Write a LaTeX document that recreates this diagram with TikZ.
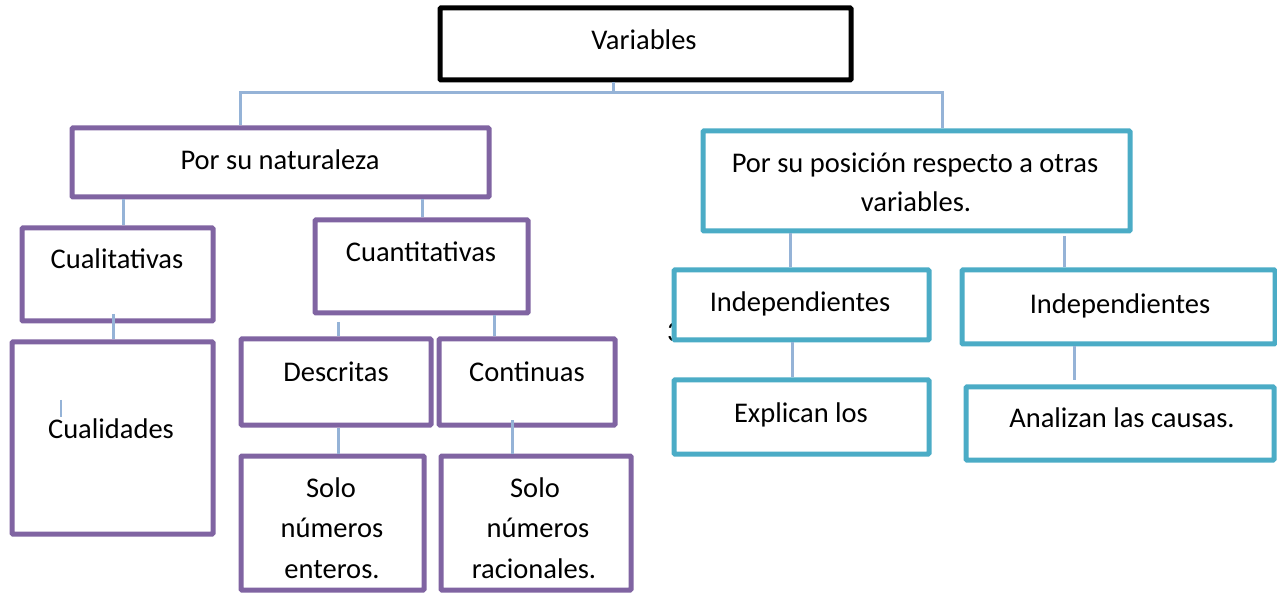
\documentclass[tikz,border=0pt]{standalone}
\usepackage{fontspec}
\setmainfont{Carlito}
\definecolor{boxpurple}{HTML}{8064A2}
\definecolor{boxcyan}{HTML}{4BACC6}
\definecolor{connblue}{HTML}{95B3D7}
\begin{document}
\begin{tikzpicture}[x=1pt,y=-1pt,
  every node/.style={font=\fontsize{28.5}{40}\selectfont, inner sep=0pt},
  bbox/.style={draw=black, line width=5pt, fill=white, rounded corners=1pt},
  pbox/.style={draw=boxpurple, line width=5pt, fill=white, rounded corners=1pt},
  cbox/.style={draw=boxcyan, line width=5pt, fill=white, rounded corners=1pt},
  lbl/.style={anchor=base, align=center},
  conn/.style={draw=connblue, line width=3pt}]
\useasboundingbox (0,0) rectangle (1277,593);
% stray digit partly hidden behind a box
\node[anchor=base west] (stray) at (667,342) {3};
% boxes
\node[bbox, minimum width=411pt, minimum height=72pt] (var) at (645.5,44) {};
\node[pbox, minimum width=417pt, minimum height=69pt] (nat) at (280.5,162.5) {};
\node[cbox, minimum width=427pt, minimum height=100pt] (pos) at (916.5,181) {};
\node[pbox, minimum width=191pt, minimum height=93pt] (cual) at (117.5,274.5) {};
\node[pbox, minimum width=213pt, minimum height=93pt] (cuant) at (421.5,266.5) {};
\node[pbox, minimum width=201pt, minimum height=192pt] (cualid) at (112.5,438) {};
\node[pbox, minimum width=190pt, minimum height=86pt] (desc) at (336,382) {};
\node[pbox, minimum width=176pt, minimum height=86pt] (cont) at (527,382) {};
\node[pbox, minimum width=183pt, minimum height=134pt] (ent) at (332.5,523) {};
\node[pbox, minimum width=190pt, minimum height=134pt] (rac) at (536,523) {};
\node[cbox, minimum width=255pt, minimum height=70pt] (indl) at (801.5,305) {};
\node[cbox, minimum width=313pt, minimum height=74pt] (indr) at (1118.5,307) {};
\node[cbox, minimum width=255pt, minimum height=74pt] (expl) at (801.5,417) {};
\node[cbox, minimum width=308pt, minimum height=73pt] (anal) at (1120,423.5) {};
% labels
\node[lbl] (tvar) at (644,50) {Variables};
\node[lbl] (tnat) at (280,170) {Por su naturaleza};
\node[lbl] (tpos1) at (915,173) {Por su posición respecto a otras};
\node[lbl] (tpos2) at (916,212) {variables.};
\node[lbl] (tcual) at (117,269) {Cualitativas};
\node[lbl] (tcuant) at (421,262) {Cuantitativas};
\node[lbl] (tcualid) at (111,438) {Cualidades};
\node[lbl] (tdesc) at (336,382) {Descritas};
\node[lbl] (tcont) at (527,382) {Continuas};
\node[lbl] (tent1) at (331,497) {Solo};
\node[lbl] (tent2) at (332,537) {números};
\node[lbl] (tent3) at (332,578) {enteros.};
\node[lbl] (trac1) at (535,497) {Solo};
\node[lbl] (trac2) at (538,537) {números};
\node[lbl] (trac3) at (534,578) {racionales.};
\node[lbl] (tindl) at (800,312) {Independientes};
\node[lbl] (tindr) at (1120,314) {Independientes};
\node[lbl] (texpl) at (801,422) {Explican los};
\node[lbl] (tanal) at (1122,428) {Analizan las causas.};
% text cursor mark
\coordinate (cur) at (61,400);
\draw[connblue, line width=1.2pt] (cur) -- ++(0,17);
% connectors
\coordinate (j) at (613,93);
\draw[conn] (var.south -| j) -- (j);
\draw[conn] (nat.north -| 240,0) |- (j) -| (pos.north -| 942,0);
\draw[conn] (nat.south -| 123,0) -- (cual.north -| 123,0);
\draw[conn] (nat.south -| 422,0) -- (cuant.north -| 422,0);
\draw[conn] (113,314) -- (cualid.north -| 113,0);
\draw[conn] (338,322) -- (desc.north -| 338,0);
\draw[conn] (cuant.south -| 494,0) -- (cont.north -| 494,0);
\draw[conn] (desc.south -| 338,0) -- (ent.north -| 338,0);
\draw[conn] (512,420) -- (rac.north -| 512,0);
\draw[conn] (pos.south -| 790,0) -- (indl.north -| 790,0);
\draw[conn] (1064,236) -- (indr.north -| 1064,0);
\draw[conn] (indl.south -| 792,0) -- (expl.north -| 792,0);
\draw[conn] (indr.south -| 1074,0) -- (1074,380);
\end{tikzpicture}
\end{document}
